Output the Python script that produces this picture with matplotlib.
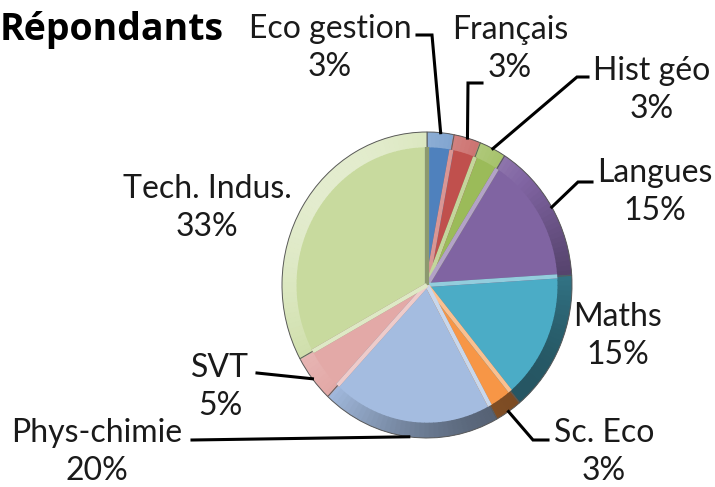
import matplotlib
matplotlib.use("Agg")
import matplotlib.pyplot as plt
from matplotlib.patches import Wedge
from matplotlib.colors import to_rgb
import numpy as np

# données du graphique
matieres = ['Eco gestion', 'Français', 'Hist géo', 'Langues', 'Maths',
            'Sc. Eco', 'Phys-chimie', 'SVT', 'Tech. Indus.']
pourcentages = [3, 3, 3, 15, 15, 3, 20, 5, 33]
couleurs = ['#4F81BD', '#C0504D', '#9BBB59', '#8064A2', '#4BACC6',
            '#F79646', '#A4BCE0', '#E3A9A7', '#C8DA9E']

plt.rcParams['font.family'] = ['Lato', 'DejaVu Sans']

W, H = 715, 487
CX, CY, RX, RY = 427, 285, 145, 153


def px(x, y):
    """Convertit des pixels (origine en haut à gauche) en coordonnées des axes."""
    return (x - CX) / RX, (CY - y) / RY


def nuance(c, s):
    """Éclaircit (s > 0) ou assombrit (s < 0) une couleur."""
    c = np.array(to_rgb(c))
    return tuple(c + (1 - c) * s) if s > 0 else tuple(c * (1 + s))


fig = plt.figure(figsize=(W / 100, H / 100), dpi=100)
ax = fig.add_axes([0, 0, 1, 1])

wedges, _ = ax.pie(pourcentages, colors=couleurs, startangle=90, counterclock=False,
                   radius=1.0, wedgeprops=dict(edgecolor='none'))

# biseau : bord extérieur éclairé depuis le haut à gauche
for w, c in zip(wedges, couleurs):
    angles = np.linspace(w.theta1, w.theta2, max(2, int(w.theta2 - w.theta1) // 2 + 2))
    for a0, a1 in zip(angles[:-1], angles[1:]):
        s = 0.5 * np.cos(np.deg2rad((a0 + a1) / 2 - 135))
        ax.add_patch(Wedge((0, 0), 1.0, a0, a1 + 0.3, width=0.1,
                           facecolor=nuance(c, s), edgecolor='none'))
    for t, s in ((w.theta1, -0.3), (w.theta2, 0.4)):
        r = np.deg2rad(t)
        ax.plot([0, 0.9 * np.cos(r)], [0, 0.9 * np.sin(r)],
                color=nuance(c, s), lw=3, solid_capstyle='butt')
    ax.add_patch(Wedge((0, 0), 1.0, w.theta1, w.theta2, facecolor='none',
                       edgecolor='#5a5a5a', linewidth=0.7))

ax.set_xlim(px(0, 0)[0], px(W, 0)[0])
ax.set_ylim(px(0, H)[1], px(0, 0)[1])
ax.set_aspect('auto')
ax.axis('off')

# position des étiquettes (centre du bloc) et coudes des traits de rappel
etiquettes = {
    'Eco gestion': ((330, 48), [(417, 35), (432, 35)]),
    'Français': ((510, 49), [(482, 83), (468, 83)]),
    'Hist géo': ((652, 90), [(588, 77), (577, 77)]),
    'Langues': ((655, 192), [(592, 182), (578, 182)]),
    'Maths': ((618, 336), None),
    'Sc. Eco': ((604, 452), [(548, 440), (533, 440)]),
    'Phys-chimie': ((97, 452), [(192, 440)]),
    'SVT': ((220, 387), [(257, 373)]),
    'Tech. Indus.': ((207, 208), None),
}

for w, nom, p in zip(wedges, matieres, pourcentages):
    (lx, ly), coudes = etiquettes[nom]
    ax.text(*px(lx, ly), f'{nom}\n{p}%', ha='center', va='center',
            fontsize=23, color='#1a1a1a', linespacing=1.33)
    if coudes:
        milieu = np.deg2rad((w.theta1 + w.theta2) / 2)
        pts = [px(*c) for c in coudes] + [(np.cos(milieu), np.sin(milieu))]
        xs, ys = zip(*pts)
        ax.plot(xs, ys, color='black', lw=2.2, solid_joinstyle='miter')

ax.text(*px(0, 30), 'Répondants', ha='left', va='center', family='Open Sans',
        fontsize=27, fontweight='bold', color='black')

fig.savefig('out.png', dpi=100)
